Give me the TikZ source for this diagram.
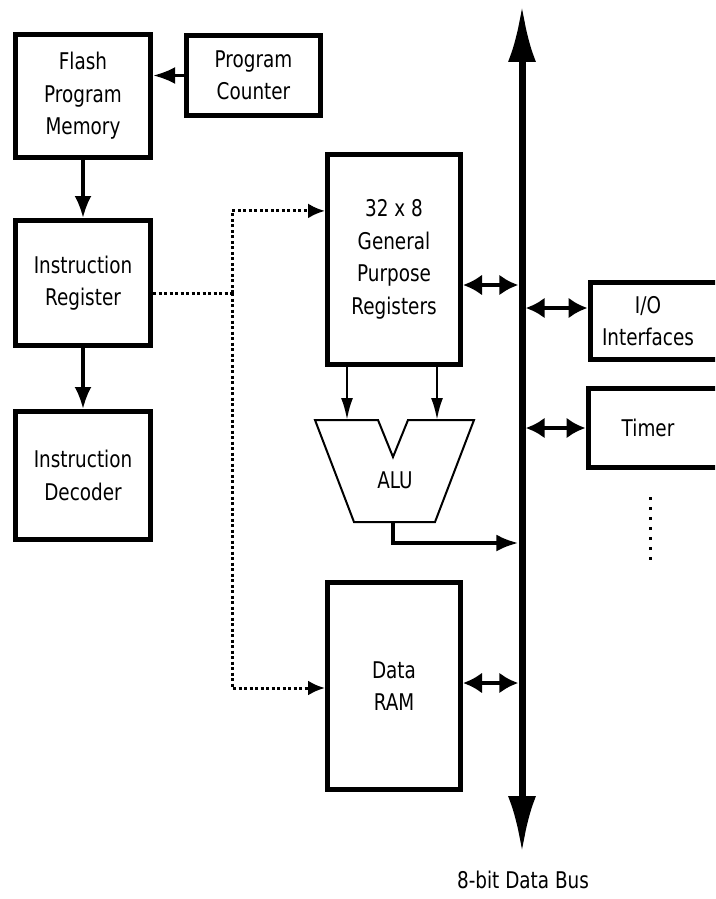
\documentclass[tikz,border=0pt]{standalone}
\usepackage{fontspec}
\setmainfont{DejaVu Sans}[FakeStretch=0.8]
\usetikzlibrary{arrows.meta,calc}

\tikzset{
  block/.style={draw, line width=5pt, minimum width=135pt, inner sep=0pt, align=center},
  lbl/.style={inner sep=0pt, align=center},
  arr/.style={line width=3.5pt, -{Latex[length=22pt,width=17pt]}},
  thinarr/.style={line width=2.5pt, -{Latex[length=22pt,width=12pt]}},
  ctrl/.style={line width=3pt, dash pattern=on 3pt off 2.5pt},
  ctrlarr/.style={ctrl, -{Latex[length=17pt,width=15pt]}},
  tap/.style={line width=4pt, {Latex[length=19pt,width=21pt]}-{Latex[length=19pt,width=21pt]}},
  busbar/.style={fill=black, draw=none, minimum width=7pt, inner sep=0pt},
  bustip/.style={line width=7pt, -{Latex[length=57pt,width=28pt]}},
  alushape/.style={line width=2pt, line join=miter},
  morelines/.style={line width=3pt, dash pattern=on 3pt off 7pt}
}

\begin{document}
\begin{tikzpicture}[x=1pt, y=-1pt, font=\fontsize{23}{32.5}\selectfont]
  \clip (0,0) rectangle (715,899);

  % program side
  \node[block, minimum height=123pt] (flash) at (83,96) {Flash\\Program\\Memory};
  \node[block, minimum width=134pt, minimum height=80pt] (pc) at (253.5,75.5) {Program\\Counter};
  \node[block, minimum height=125pt] (ir) at (83,283) {Instruction\\Register};
  \node[block, minimum height=128pt] (dec) at (83,475.5) {Instruction\\Decoder};

  % data side
  \node[block, minimum width=133pt, minimum height=210pt] (gpr) at (394,259.5) {32 x 8\\General\\Purpose\\Registers};
  \node[block, minimum width=133pt, minimum height=207pt] (ram) at (394,686) {Data\\RAM};

  % ALU
  \draw[alushape] (315,420) -- (378,420) -- (393,457) -- (408,420) -- (474,420)
    -- (435,522) -- (354,522) -- cycle;
  \node[lbl] (alu) at (395,480) {ALU};
  \coordinate (alua) at (347,420);
  \coordinate (alub) at (437,420);
  \coordinate (aluout) at (393,522);
  \coordinate (aluj) at (393,543);

  % bus
  \node[busbar, minimum height=737pt] (bus) at (522,428.5) {};
  \coordinate (bustop) at (522,5);
  \coordinate (busbot) at (522,853);
  \draw[bustip] (bus.north) -- (bustop);
  \draw[bustip] (bus.south) -- (busbot);
  \node[lbl] (buslbl) at (523,880) {8-bit Data Bus};

  % peripherals
  \node[block, anchor=west, minimum width=170pt, minimum height=77pt] (io) at (587.5,321) {};
  \node[lbl] (iolbl) at (648,321) {I/O\\Interfaces};
  \node[block, anchor=west, minimum width=170pt, minimum height=79pt] (timer) at (585.5,428) {};
  \node[lbl] (timerlbl) at (648,428) {Timer};
  \draw[morelines] (650,497) -- (650,566);

  % program flow
  \draw[arr] (pc.west) -- (pc.west -| flash.east);
  \draw[arr] (flash.south) -- (ir.north);
  \draw[arr] (ir.south) -- (dec.north);

  % control lines
  \coordinate (split) at (232,293);
  \coordinate (gprin) at ($(gpr.north west)!0.274!(gpr.south west)$);
  \draw[ctrl] (ir.east |- split) -- (split);
  \draw[ctrlarr] (split) |- (gprin);
  \draw[ctrlarr] (split) |- ([yshift=-2pt]ram.west);

  % ALU paths
  \draw[thinarr] (gpr.south -| alua) -- (alua);
  \draw[thinarr] (gpr.south -| alub) -- (alub);
  \draw[arr] (aluout) -- (aluj) -- (aluj -| bus.west);

  % bus taps
  \draw[tap] ([yshift=-25.5pt]gpr.east) -- ([yshift=-25.5pt]gpr.east -| bus.west);
  \draw[tap] ([yshift=13pt]io.west -| bus.east) -- ([yshift=13pt]io.west);
  \draw[tap] (timer.west -| bus.east) -- (timer.west);
  \draw[tap] ([yshift=3pt]ram.east) -- ([yshift=3pt]ram.east -| bus.west);
\end{tikzpicture}
\end{document}
